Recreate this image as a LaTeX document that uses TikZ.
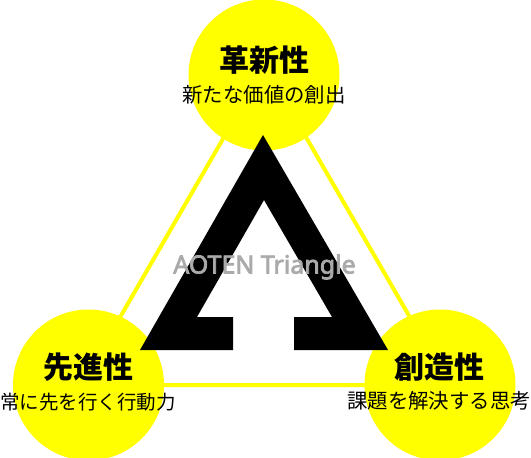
\documentclass[tikz,border=0pt]{standalone}
\usepackage{fontspec}
\newfontfamily\jp{Noto Sans CJK JP}
\newfontfamily\lat{Noto Sans}[FakeBold=3]
\definecolor{ylw}{RGB}{255,255,0}
\definecolor{lbl}{RGB}{170,170,170}
\tikzset{
  circ/.style={circle, fill=ylw, minimum size=151pt, inner sep=0pt},
  ttl/.style={font=\jp\bfseries\fontsize{30}{30}\selectfont, inner sep=0pt, text=black},
  sub/.style={font=\jp\fontsize{20.4}{21}\selectfont, inner sep=0pt, text=black},
  subs/.style={font=\jp\fontsize{19.5}{20}\selectfont, inner sep=0pt, text=black},
  tri/.style={draw=ylw, line width=4pt},
}
\begin{document}
\begin{tikzpicture}[x=1pt,y=-1pt]
\useasboundingbox (0,0) rectangle (531,458);
\coordinate (vt) at (265,66);
\coordinate (vl) at (81,385);
\coordinate (vr) at (449,385);
\draw[tri] (vt) -- (vl) -- (vr) -- cycle;
\node[circ] (ct) at (264,75) {};
\node[circ] (cl) at (88.5,385) {};
\node[circ] (cr) at (440,385) {};
\fill[black] (263,135) -- (388,350) -- (294,350) -- (294,317) -- (332,317) -- (264,200) -- (197,317) -- (233,317) -- (233,350) -- (140,350) -- cycle;
\node[ttl] (t1) at (264,60) {革新性};
\node[sub] (s1) at (264,95) {新たな価値の創出};
\node[ttl] (t2) at (88.5,367) {先進性};
\node[subs] (s2) at (88.2,402) {常に先を行く行動力};
\node[ttl] (t3) at (439.5,367) {創造性};
\node[sub] (s3) at (439,401) {課題を解決する思考};
\node[font=\lat\fontsize{25}{25}\selectfont, text=lbl, inner sep=0pt] (lb) at (264.5,267) {AOTEN Triangle};
\end{tikzpicture}
\end{document}
